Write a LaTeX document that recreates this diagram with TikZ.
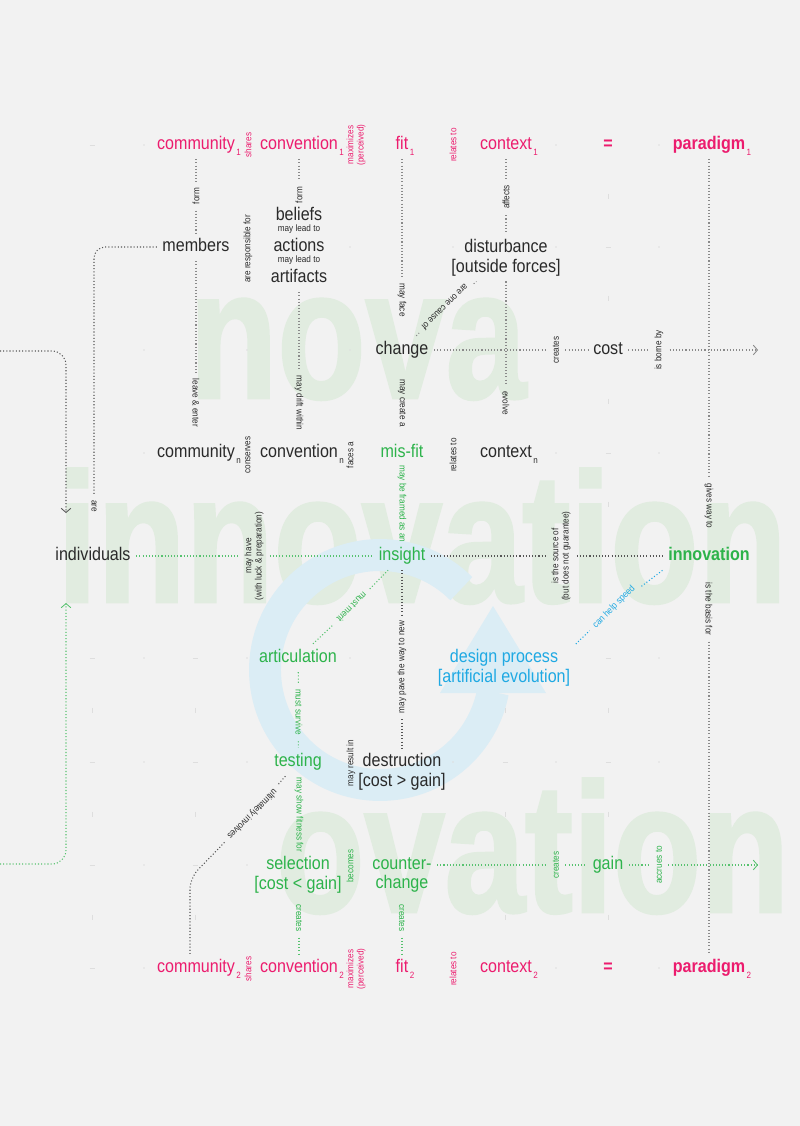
\documentclass[tikz,border=0pt]{standalone}
\usepackage{fontspec}
\setmainfont{Liberation Sans}[FakeStretch=0.88]
\newfontfamily\ghostfont{Liberation Sans}[FakeStretch=0.88,FakeBold=1.6]
\usetikzlibrary{arrows.meta,positioning,calc}
\definecolor{paper}{HTML}{F2F2F2}
\definecolor{rose}{HTML}{EC1C6E}
\definecolor{leaf}{HTML}{2DB34B}
\definecolor{sky}{HTML}{1FA9E3}
\definecolor{ink}{HTML}{2A2A2A}
\definecolor{dotgray}{HTML}{8A8A8A}
\definecolor{ghost}{HTML}{E1ECE0}
\definecolor{ringblue}{HTML}{DBEDF5}
\newcommand{\subidx}[1]{\rlap{\raisebox{-4.2pt}{\mdseries\fontsize{6.5}{7}\selectfont\,#1}}}
\tikzset{
  word/.style={font=\fontsize{13}{14}\selectfont,text=ink,inner sep=2pt,outer sep=2pt,align=center},
  term/.style={word,text height=9.4pt,text depth=2.8pt},
  pairterm/.style={word},
  roseterm/.style={term,text=rose},
  leafterm/.style={term,text=leaf},
  headterm/.style={term,font=\fontsize{13}{14}\selectfont\bfseries},
  rel/.style={font=\fontsize{6.6}{7.3}\selectfont,text=ink,inner sep=1.5pt,outer sep=3pt,align=center},
  relup/.style={rel,rotate=90},
  reldown/.style={rel,rotate=-90},
  trail/.style={draw=dotgray,line width=0.75pt,dash pattern=on 0.75pt off 1.5pt},
  darktrail/.style={trail,draw=ink!80},
  leaftrail/.style={trail,draw=leaf!80},
  skytrail/.style={trail,draw=sky},
  tip/.style={-{Straight Barb[length=3pt,width=7pt,line width=0.6pt]}},
  ghostword/.style={anchor=base west,inner sep=0pt,text=ghost,font=\ghostfont\fontsize{131}{131}\selectfont\bfseries},
  gridmark/.style={black!13,line width=0.5pt}
}

\begin{document}
\begin{tikzpicture}[x=0.025cm,y=-0.025cm]
  \fill[paper] (0,0) rectangle (800,1126);
  \useasboundingbox (0,0) rectangle (800,1126);

  \node[ghostword] (wnova) at (189,398) {\scalebox{0.89}[1]{nova}};
  \node[ghostword] (winno) at (57,602) {\scalebox{0.89}[1]{innovation}};
  \node[ghostword] (wova) at (276,912) {\scalebox{0.89}[1]{ovation}};

  \draw[ringblue,line width=22.7pt] (380,670) ++(-45:115) arc[start angle=-45,end angle=-349,radius=115];
  \fill[ringblue] (440,693) -- (493,606) -- (546,693) -- cycle;

  \foreach \gx/\gy in {92/145,608/247,608/453,92/658,195/658,608/658,92/762,195/762,505/762,608/762,92/865,195/865,92/968}
    \draw[gridmark] (\gx-2.5,\gy) -- (\gx+2.5,\gy);
  \foreach \gx/\gy in {144/145,556/145,659/145,350/247,453/247,556/247,659/247,144/350,247/350,350/350,144/453,556/453,659/453,144/658,247/658,350/658,659/658,144/762,247/762,453/762,556/762,659/762,144/865,247/865,144/968,556/968,659/968}
    \fill[gridmark] (\gx,\gy) circle[radius=0.8];
  \foreach \gx/\gy in {92/710,195/710,505/710,608/710,92/814,195/814,505/814,608/814,608/196,608/298,608/401,608/504,92/917,195/917,505/917,608/917}
    \draw[gridmark] (\gx,\gy-2.5) -- (\gx,\gy+2.5);

  \node[roseterm] (comone) at (196,145) {community\subidx{1}};
  \node[relup,text=rose] (sharesone) at (248,145) {shares};
  \node[roseterm] (convone) at (299,145) {convention\subidx{1}};
  \node[relup,text=rose] (maxone) at (356,145) {maximizes\\(perceived)};
  \node[roseterm] (fitone) at (402,145) {fit\subidx{1}};
  \node[relup,text=rose] (relone) at (453,145) {relates to};
  \node[roseterm] (ctxone) at (506,145) {context\subidx{1}};
  \node[headterm,text=rose] (eqone) at (608,145) {=};
  \node[headterm,text=rose] (paraone) at (709,145) {paradigm\subidx{1}};

  \node[relup] (formone) at (196,196) {form};
  \node[relup] (formtwo) at (299,195) {form};
  \node[relup] (affects) at (506,197) {affects};
  \node[term] (members) at (196,247) {members};
  \node[relup] (resp) at (248,249) {are responsible for};
  \node[term] (beliefs) at (299,216) {beliefs};
  \node[rel,outer sep=0pt] (leadone) at (299,229.5) {may lead to};
  \node[term] (actions) at (299,247) {actions};
  \node[rel,outer sep=0pt] (leadtwo) at (299,260) {may lead to};
  \node[term] (artifacts) at (299,278) {artifacts};
  \node[pairterm] (dist) at (506,257.5) {disturbance\\{[outside forces]}};

  \node[reldown] (mayface) at (402,300) {may face};
  \node[rel,rotate=-135.5] (cause) at (445,307) {are one cause of};
  \node[term] (change) at (402,350) {change};
  \node[relup] (crcost) at (556,350) {creates};
  \node[term] (cost) at (608,350) {cost};
  \node[relup] (borne) at (659,350) {is borne by};
  \node[reldown] (leave) at (196,403) {leave \& enter};
  \node[reldown] (drift) at (299,403) {may drift within};
  \node[reldown] (mcreate) at (402,403) {may create a};
  \node[reldown] (evolve) at (506,403) {evolve};

  \node[term] (comn) at (196,453) {community\subidx{n}};
  \node[relup] (conserves) at (248,455) {conserves};
  \node[term] (convn) at (299,453) {convention\subidx{n}};
  \node[relup] (facesa) at (350,455) {faces a};
  \node[leafterm] (misfit) at (402,453) {mis-fit};
  \node[relup] (reln) at (453,455) {relates to};
  \node[term] (ctxn) at (506,453) {context\subidx{n}};
  \node[reldown] (are) at (94,506) {are};
  \node[reldown,text=leaf] (framed) at (402,504) {may be framed as an};
  \node[reldown] (gives) at (709,506) {gives way to};

  \node[term] (indiv) at (93,556) {individuals};
  \node[relup] (mayhave) at (254,556) {may have\\(with luck \& preparation)};
  \node[leafterm] (insight) at (402,556) {insight};
  \node[relup] (source) at (561,556) {is the source of\\(but does not guarantee)};
  \node[headterm,text=leaf] (innov) at (709,556) {innovation};
  \node[reldown] (basis) at (709,609) {is the basis for};

  \node[rel,text=leaf,rotate=-135] (merit) at (352,607) {must merit};
  \node[rel,text=sky,rotate=45] (speed) at (614,607) {can help speed};
  \node[leafterm] (artic) at (298,658) {articulation};
  \node[pairterm,text=sky] (design) at (504,668) {design process\\{[artificial evolution]}};
  \node[relup] (pave) at (402,667) {may pave the way to new};
  \node[reldown,text=leaf] (survive) at (299,712) {must survive};

  \node[leafterm] (testing) at (298,762) {testing};
  \node[relup] (result) at (351,763) {may result in};
  \node[pairterm] (destr) at (402,772) {destruction\\{[cost > gain]}};
  \node[rel,rotate=-135] (ultim) at (252,814) {ultimately involves};
  \node[reldown,text=leaf] (fitness) at (299,815) {may show fitness for};

  \node[pairterm,text=leaf] (select) at (298,875) {selection\\{[cost < gain]}};
  \node[relup,text=leaf] (becomes) at (350,866) {becomes};
  \node[pairterm,text=leaf] (counter) at (402,875) {counter-\\change};
  \node[relup,text=leaf] (crgain) at (556,865) {creates};
  \node[leafterm] (gain) at (608,865) {gain};
  \node[relup,text=leaf] (accrues) at (659,865) {accrues to};
  \node[reldown,text=leaf] (crconv) at (299,918) {creates};
  \node[reldown,text=leaf] (crfit) at (402,918) {creates};

  \node[roseterm] (comtwo) at (196,968) {community\subidx{2}};
  \node[relup,text=rose] (sharestwo) at (248,969) {shares};
  \node[roseterm] (convtwo) at (299,968) {convention\subidx{2}};
  \node[relup,text=rose] (maxtwo) at (356,969) {maximizes\\(perceived)};
  \node[roseterm] (fittwo) at (402,968) {fit\subidx{2}};
  \node[relup,text=rose] (reltwo) at (453,969) {relates to};
  \node[roseterm] (ctxtwo) at (506,968) {context\subidx{2}};
  \node[headterm,text=rose] (eqtwo) at (608,968) {=};
  \node[headterm,text=rose] (paratwo) at (709,968) {paradigm\subidx{2}};

  \coordinate (costin) at (0,351);
  \coordinate (costdrop) at (66,513);
  \coordinate (costout) at (758,350);
  \coordinate (gainin) at (0,864);
  \coordinate (gainrise) at (66,603);
  \coordinate (gainout) at (758,865);
  \coordinate (ultbend) at (190,878);

  \draw[trail] (comone) -- (formone) -- (members);
  \draw[trail] (convone) -- (formtwo);
  \draw[trail] (fitone) -- (mayface);
  \draw[trail] (ctxone) -- (affects) -- (dist);
  \draw[trail] (change) -- (cause) -- (dist);
  \draw[trail] (dist) -- (evolve);
  \draw[trail] (members) -- (leave);
  \draw[trail] (artifacts) -- (drift);
  \draw[trail] (change) -- (crcost) -- (cost) -- (borne);
  \draw[trail,tip] (borne) -- (costout);
  \draw[darktrail,tip,rounded corners=10] (costin) -| (costdrop);
  \draw[darktrail,rounded corners=8] (members.west) -| (are);
  \draw[trail] (paraone) -- (gives);
  \draw[trail] (basis) -- (paratwo);
  \draw[leaftrail] (indiv) -- (mayhave) -- (insight);
  \draw[darktrail] (insight) -- (source) -- (innov);
  \draw[leaftrail] (artic) -- (merit) -- (insight);
  \draw[skytrail] (design.north east) -- (speed) -- (innov.south west);
  \draw[darktrail] (insight) -- (pave) -- (destr);
  \draw[leaftrail] (artic) -- (survive) -- (testing);
  \draw[darktrail,rounded corners=8] (testing) -- (ultim) -- (ultbend) -- (ultbend |- comtwo.north);
  \draw[leaftrail] (counter.east |- crgain) -- (crgain) -- (gain) -- (accrues);
  \draw[leaftrail,tip] (accrues) -- (gainout);
  \draw[leaftrail,tip,rounded corners=10] (gainin) -| (gainrise);
  \draw[leaftrail] (crconv) -- (convtwo);
  \draw[leaftrail] (crfit) -- (fittwo);
\end{tikzpicture}
\end{document}
